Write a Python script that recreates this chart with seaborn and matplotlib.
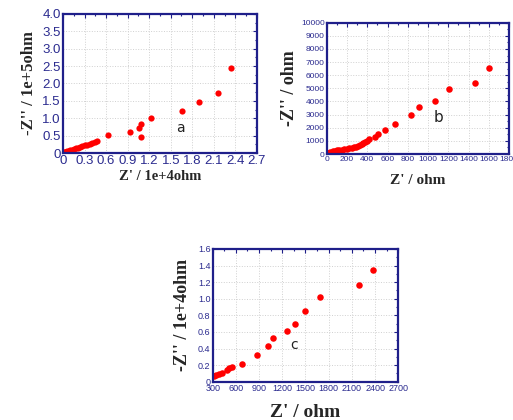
import numpy as np
import pandas as pd
import matplotlib
matplotlib.use("Agg")
import matplotlib.pyplot as plt
import seaborn as sns
from matplotlib.ticker import MultipleLocator, AutoMinorLocator, FuncFormatter

sns.set_style("white")

# Panel a (Z' in 1e4 ohm, -Z'' in 1e5 ohm)
a_x = [0.005, 0.01, 0.02, 0.03, 0.04, 0.06, 0.08, 0.10, 0.12, 0.15, 0.18, 0.21, 0.24, 0.27,
       0.30, 0.33, 0.37, 0.41, 0.44, 0.47, 0.62, 0.93, 1.06, 1.08, 1.09, 1.22, 1.66, 1.89, 2.16, 2.34]
a_y = [0.005, 0.01, 0.02, 0.03, 0.035, 0.05, 0.06, 0.08, 0.09, 0.11, 0.13, 0.15, 0.17, 0.20,
       0.22, 0.24, 0.27, 0.29, 0.32, 0.35, 0.53, 0.61, 0.72, 0.84, 0.47, 1.00, 1.22, 1.46, 1.73, 2.45]

# Panel b (ohm)
b_x = [7, 16, 33, 59, 80, 99, 120, 148, 170, 197, 220, 246, 270, 289, 310, 329, 345, 361,
       378, 394, 417, 476, 503, 575, 673, 828, 907, 1064, 1202, 1459, 1603]
b_y = [25, 76, 152, 228, 255, 279, 300, 330, 365, 406, 440, 482, 520, 558, 620, 685, 750, 812,
       880, 964, 1117, 1320, 1548, 1853, 2284, 2944, 3553, 4061, 4924, 5381, 6548]

# Panel c (Z' in ohm, -Z'' in 1e4 ohm)
c_x = [317, 343, 378, 416, 481, 511, 546, 684, 873, 1011, 1076, 1257, 1369, 1494, 1692, 2192, 2373]
c_y = [0.068, 0.076, 0.092, 0.109, 0.141, 0.165, 0.181, 0.213, 0.318, 0.434, 0.531, 0.611,
       0.691, 0.852, 1.025, 1.16, 1.347]

NAVY = "#1f1f8a"
TICK_C = "#2b2b8f"

fig = plt.figure(figsize=(5.13, 4.20), dpi=100)

def fmt1(v, p):
    return "0" if abs(v) < 1e-9 else f"{v:.1f}"

def style(ax, xlim, ylim, xstep, ystep, xlabel, ylabel, tfs, xlfs, ylfs, xpad, ypad, onedec=(False, False)):
    ax.set_xlim(*xlim)
    ax.set_ylim(*ylim)
    ax.xaxis.set_major_locator(MultipleLocator(xstep))
    ax.yaxis.set_major_locator(MultipleLocator(ystep))
    ax.xaxis.set_minor_locator(AutoMinorLocator(2))
    ax.yaxis.set_minor_locator(AutoMinorLocator(2))
    if onedec[0]:
        ax.xaxis.set_major_formatter(FuncFormatter(fmt1))
    if onedec[1]:
        ax.yaxis.set_major_formatter(FuncFormatter(fmt1))
    ax.tick_params(which="both", direction="in", top=True, right=True, colors=NAVY,
                   labelcolor=TICK_C, labelsize=tfs, width=0.8)
    ax.tick_params(which="major", length=3, pad=1.5)
    ax.tick_params(which="minor", length=1.5)
    for lab in ax.get_xticklabels() + ax.get_yticklabels():
        lab.set_family("Liberation Sans")
    for s in ax.spines.values():
        s.set_color(NAVY)
        s.set_linewidth(1.6)
    ax.grid(True, which="major", color="#d0d0d0", linestyle=":", linewidth=0.7)
    ax.set_axisbelow(True)
    ax.set_xlabel(xlabel, fontsize=xlfs, fontweight="bold", family="Liberation Serif", labelpad=xpad)
    ax.set_ylabel(ylabel, fontsize=ylfs, fontweight="bold", family="Liberation Serif", labelpad=ypad)

# Panel a
ax1 = fig.add_axes([0.1228, 0.6357, 0.378, 0.331])
sns.scatterplot(x=a_x, y=a_y, ax=ax1, color="red", s=20, linewidth=0, legend=False)
style(ax1, (0, 2.7), (0, 4.0), 0.3, 0.5, "Z' / 1e+4ohm", "-Z'' / 1e+5ohm", 9.5, 10.5, 12, 2, 4,
      onedec=(True, True))
ax1.text(1.63, 0.72, "a", fontsize=10, color="#222222", ha="center", va="center", family="DejaVu Sans")

# Panel b
ax2 = fig.add_axes([0.637, 0.6333, 0.3554, 0.3126])
sns.scatterplot(x=b_x, y=b_y, ax=ax2, color="red", s=22, linewidth=0, legend=False)
style(ax2, (0, 1800), (0, 10000), 200, 1000, "Z' / ohm", "-Z'' / ohm", 6, 11, 13, 8, 2)
ax2.text(1100, 2790, "b", fontsize=11, color="#222222", ha="center", va="center", family="DejaVu Sans")

# Panel c
ax3 = fig.add_axes([0.4146, 0.0912, 0.3618, 0.316])
sns.scatterplot(x=c_x, y=c_y, ax=ax3, color="red", s=22, linewidth=0, legend=False)
style(ax3, (300, 2700), (0, 1.6), 300, 0.2, "Z' / ohm", "-Z'' / 1e+4ohm", 6.5, 14, 13, 8, 5,
      onedec=(False, True))
ax3.text(1356, 0.44, "c", fontsize=10, color="#222222", ha="center", va="center", family="DejaVu Sans")

fig.savefig("out.png", dpi=100)
